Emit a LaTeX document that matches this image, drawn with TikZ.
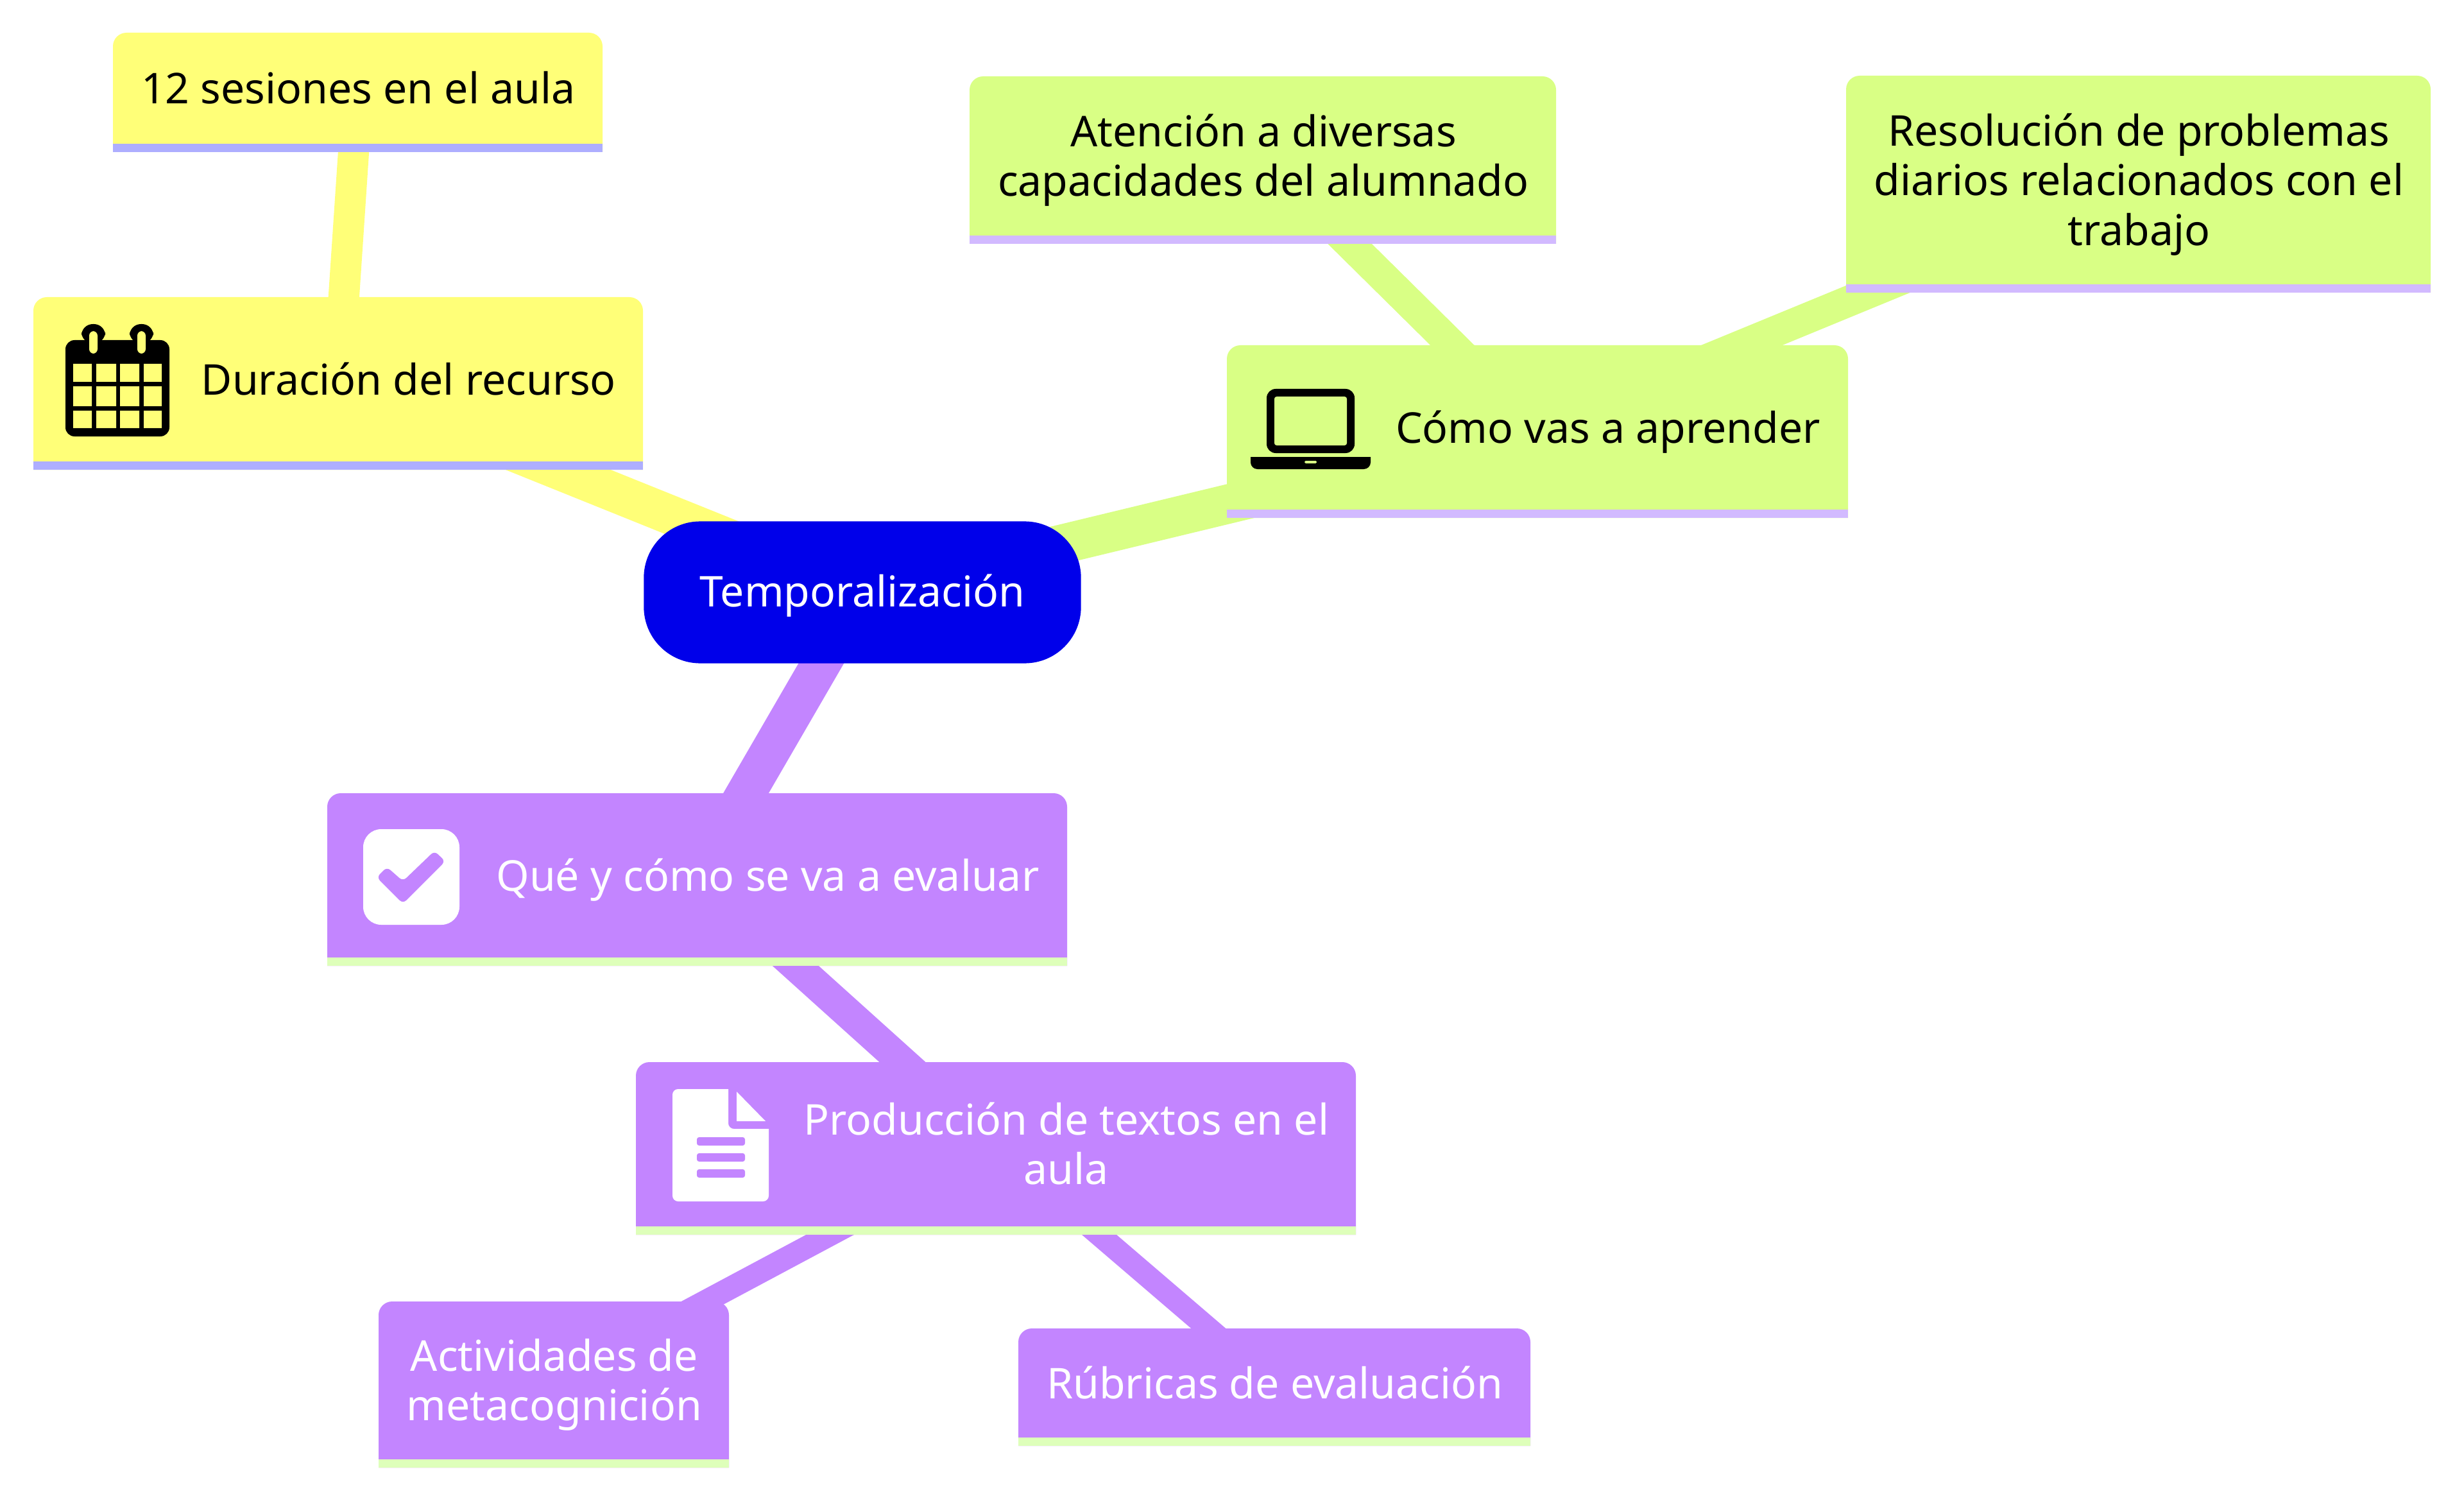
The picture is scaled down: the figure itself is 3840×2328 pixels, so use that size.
\documentclass[tikz,border=0pt]{standalone}
\usepackage{fontspec}
\setmainfont{Noto Sans}
\usetikzlibrary{backgrounds}
\definecolor{cyel}{HTML}{FFFF78}
\definecolor{cyels}{HTML}{AEAEFF}
\definecolor{cgrn}{HTML}{D9FF85}
\definecolor{cgrns}{HTML}{D2BAFF}
\definecolor{cpur}{HTML}{C385FF}
\definecolor{cpurs}{HTML}{DEFFBA}
\definecolor{croot}{HTML}{0000EA}
\tikzset{
  x=0.01cm,y=-0.01cm,
  mmtext/.style={inner sep=0pt,font=\fontsize{18.8pt}{22pt}\selectfont,align=center},
  ln1/.style={line width=17.4pt},
  ln2/.style={line width=13.7pt},
  ln3/.style={line width=10pt}
}
% name, x0,y0,x1,y1, fill, stripe, textdx, text
\newcommand{\mmbox}[9]{%
  \fill[#6] (#2,#5) [rounded corners=6pt] -- (#2,#3) -- (#4,#3) [sharp corners] -- (#4,#5) -- cycle;
  \fill[#7] (#2,#5-13) rectangle (#4,#5);
  \pgfmathsetmacro{\mmW}{(#4-#2)*0.2845}
  \pgfmathsetmacro{\mmH}{(#5-7-#3)*0.2845}
  \node[mmtext,minimum width=\mmW pt,minimum height=\mmH pt] (#1) at ({(#2+#4)/2},{(#3+#5-7)/2}) {\makebox[\mmW pt][c]{\hspace*{#8pt}\raisebox{0pt}[\dimexpr\height+3.3pt\relax][\depth]{\begin{tabular}{@{}c@{}}#9\end{tabular}}}};
}
\begin{document}
\begin{tikzpicture}
\useasboundingbox (0,0) rectangle (3840,2328);
\setlength{\tabcolsep}{0pt}
\mmbox{A}{176}{51}{939}{237}{cyel}{cyels}{0.5}{\color{black}12 sesiones en el aula}
\mmbox{B}{52}{463}{1002}{732}{cyel}{cyels}{62.5}{\color{black}Duración del recurso}
\mmbox{D}{1511}{119}{2425}{380}{cgrn}{cgrns}{0.5}{\color{black}Atención a diversas\\\color{black}capacidades del alumnado}
\mmbox{E}{1912}{538}{2880}{807}{cgrn}{cgrns}{62.5}{\color{black}Cómo vas a aprender}
\mmbox{F}{2877}{118}{3788}{456}{cgrn}{cgrns}{0.5}{\color{black}Resolución de problemas\\\color{black}diarios relacionados con el\\\color{black}trabajo}
\mmbox{G}{510}{1236}{1663}{1505}{cpur}{cpurs}{62.5}{\color{white}Qué y cómo se va a evaluar}
\mmbox{H}{991}{1655}{2113}{1924}{cpur}{cpurs}{62.5}{\color{white}Producción de textos en el\\\color{white}aula}
\mmbox{I}{590}{2028}{1136}{2287}{cpur}{cpurs}{0.5}{\color{white}Actividades de\\\color{white}metacognición}
\mmbox{J}{1587}{2070}{2385}{2253}{cpur}{cpurs}{0.5}{\color{white}Rúbricas de evaluación}
\node[fill=croot,rounded corners=25pt,minimum width=6.81cm,minimum height=2.21cm,inner sep=0pt,font=\fontsize{18.8pt}{22pt}\selectfont,text=white] (R) at (1344,923) {\raisebox{0pt}[\dimexpr\height+2.8pt\relax][\depth]{Temporalización}};
\begin{pgfonlayer}{background}
\fill[white] (0,0) rectangle (3840,2328);
\draw[cyel,ln1] (R.center) -- (B.center);
\draw[cgrn,ln1] (R.center) -- (E.center);
\draw[cpur,ln1] (R.center) -- (G.center);
\draw[cyel,ln2] (B.center) -- (A.center);
\draw[cgrn,ln2] (E.center) -- (D.center);
\draw[cgrn,ln2] (E.center) -- (F.center);
\draw[cpur,ln2] (G.center) -- (H.center);
\draw[cpur,ln3] (H.center) -- (I.center);
\draw[cpur,ln3] (H.center) -- (J.center);
\end{pgfonlayer}
% calendar
\fill[black,rounded corners=4pt] (102,530) rectangle (264,680);
\fill[cyel] (114,567) rectangle (143,595) (150,567) rectangle (181,595) (187,567) rectangle (217,595) (224,567) rectangle (252,595)
 (114,602) rectangle (143,633) (150,602) rectangle (181,633) (187,602) rectangle (217,633) (224,602) rectangle (252,633)
 (114,640) rectangle (143,667) (150,640) rectangle (181,667) (187,640) rectangle (217,667) (224,640) rectangle (252,667);
\fill[black,rounded corners=5pt] (127,535) rectangle (164,505) (202,535) rectangle (239,505);
\fill[cyel,rounded corners=2pt] (139,516) rectangle (152,551) (214,516) rectangle (227,551);
% laptop
\fill[black,rounded corners=4pt] (1974,606) rectangle (2111,706);
\fill[cgrn,rounded corners=1pt] (1986,618) rectangle (2099,694);
\fill[black] (1949,712) -- (2136,712) [rounded corners=3pt] -- (2136,731) -- (1949,731) [sharp corners] -- cycle;
\fill[cgrn,rounded corners=0.5pt] (2033,718) rectangle (2052,722);
% check box
\fill[white,rounded corners=8pt] (566,1292) rectangle (716,1441);
\fill[cpur,rounded corners=2pt] (587,1367) -- (603,1351) -- (628,1373) -- (677,1326) -- (694,1342) -- (628,1408) -- cycle;
% document
\fill[white] (1090,1697) [sharp corners] -- (1135,1697) [rounded corners=2.5pt] -- (1135,1759) [sharp corners] -- (1198,1759) [rounded corners=2.5pt] -- (1198,1872) -- (1048,1872) -- (1048,1697) -- cycle;
\fill[white] (1148,1701) -- (1193,1747) -- (1148,1747) -- cycle;
\fill[cpur,rounded corners=1pt] (1086,1772) rectangle (1161,1785) (1086,1797) rectangle (1161,1810) (1086,1822) rectangle (1161,1835);
\end{tikzpicture}
\end{document}
